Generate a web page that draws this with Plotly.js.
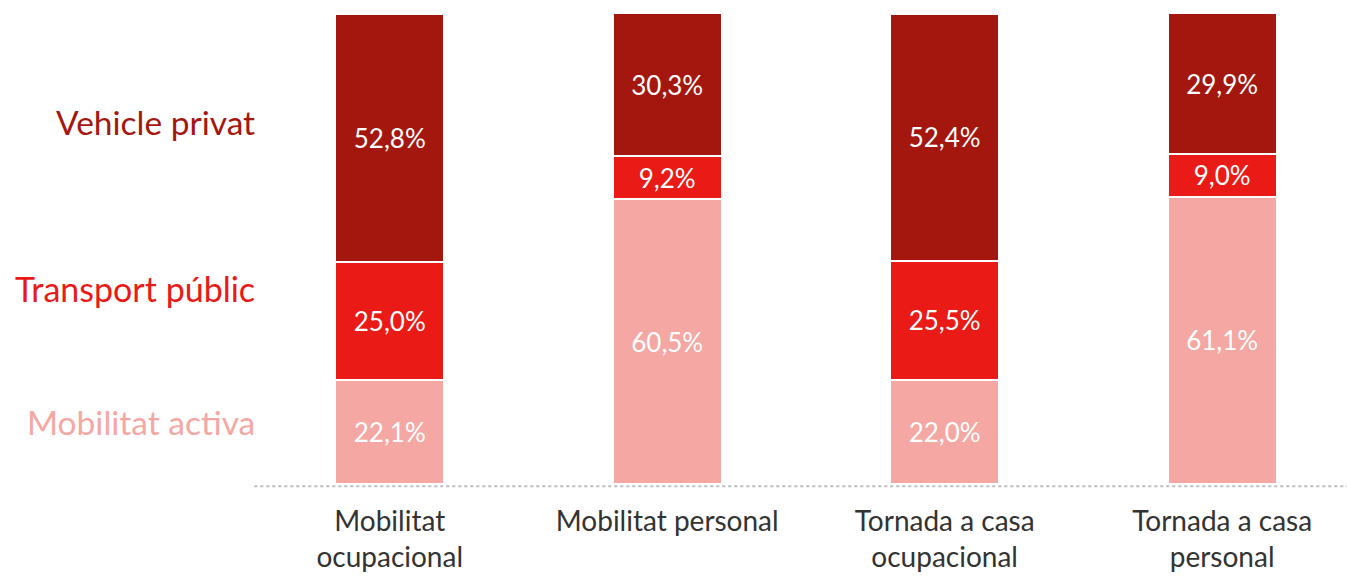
<!DOCTYPE html>
<html><head><meta charset="utf-8">
<script src="https://cdn.plot.ly/plotly-3.0.1.min.js"></script>
<style>html,body{margin:0;padding:0;background:#fff}#c{width:1347px;height:577px}</style>
</head><body><div id="c"></div>
<script>
const categories = ["Mobilitat<br>ocupacional", "Mobilitat personal", "Tornada a casa<br>ocupacional", "Tornada a casa<br>personal"];
const seriesNames = ["Mobilitat activa", "Transport públic", "Vehicle privat"];
const mobilitatActiva = [22.1, 60.5, 22.0, 61.1];
const transportPublic = [25.0, 9.2, 25.5, 9.0];
const vehiclePrivat = [52.8, 30.3, 52.4, 29.9];
const colors = ["#F5A7A3", "#EA1A16", "#A3170E"];

const FONT = "Lato, 'Noto Sans', sans-serif";
const seriesValues = [mobilitatActiva, transportPublic, vehiclePrivat];
const traces = seriesValues.map((vals, i) => ({
  type: "bar",
  name: seriesNames[i],
  x: categories,
  y: vals,
  marker: {color: colors[i], line: {color: "#ffffff", width: 2}},
  texttemplate: "%{y:.1f}%",
  textposition: "inside",
  insidetextanchor: "middle",
  textangle: 0,
  insidetextfont: {family: FONT, size: 26, color: "#ffffff"},
  hoverinfo: "skip"
}));

const labelY = [13.2, 41.5, 77];
const labelSizes = [33.5, 34, 33.5];
const annotations = seriesNames.map((n, i) => ({
  xref: "paper", yref: "y", x: 0, y: labelY[i],
  xanchor: "right", yanchor: "middle", xshift: 6,
  text: n, showarrow: false,
  font: {family: FONT, size: labelSizes[i], color: colors[i]}
}));

const layout = {
  width: 1347, height: 577,
  margin: {l: 251, r: 0, t: 13, b: 93},
  barmode: "stack",
  bargap: 0.607,
  separators: ",.",
  showlegend: false,
  paper_bgcolor: "#fff", plot_bgcolor: "#fff",
  xaxis: {range: [-0.5, 3.45], showgrid: false, zeroline: false, showline: false,
    ticks: "", ticklabelstandoff: 18, tickfont: {family: FONT, size: 28, color: "#333"}, fixedrange: true},
  yaxis: {range: [0, 100.1], visible: false, fixedrange: true},
  shapes: [{type: "line", xref: "paper", yref: "paper", x0: 0.003, x1: 1, y0: -0.005, y1: -0.005,
    line: {color: "#bdbdbd", width: 2, dash: "dot"}}],
  annotations: annotations
};
Plotly.newPlot("c", traces, layout, {displayModeBar: false, staticPlot: true});
</script></body></html>
